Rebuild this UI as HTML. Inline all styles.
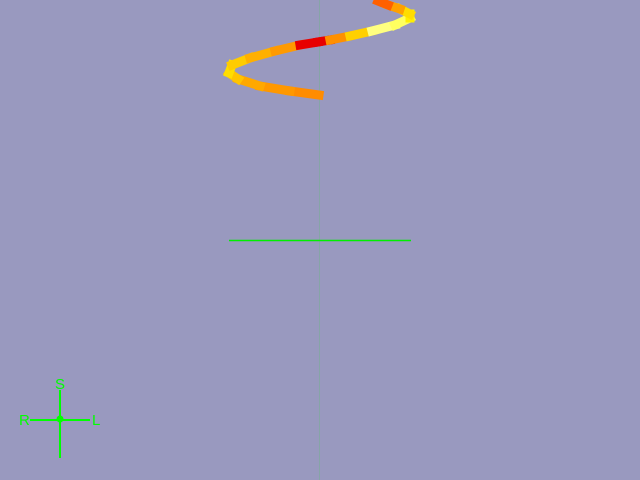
<!DOCTYPE html>
<html><head><meta charset="utf-8"><style>
html,body{margin:0;padding:0;background:#9999bf;}
svg{display:block;}
</style></head><body>
<svg id="scene" width="640" height="480" viewBox="0 0 640 480" xmlns="http://www.w3.org/2000/svg">
<rect width="640" height="480" fill="#9999bf"/>
<line x1="319.5" y1="0" x2="319.5" y2="480" stroke="#00ff00" stroke-opacity="0.12" stroke-width="1"/>
<g id="helix"></g>
<line x1="229" y1="240.5" x2="411" y2="240.5" stroke="#00ee00" stroke-width="1.5"/>
<g font-family="Liberation Sans, sans-serif" font-size="15" fill="#00ff00">
<line x1="30" y1="420" x2="90" y2="420" stroke="#00ff00" stroke-width="2"/>
<line x1="60" y1="390" x2="60" y2="458" stroke="#00ff00" stroke-width="2"/>
<circle cx="60" cy="419" r="3.5" fill="#00ff00"/>
<text x="55" y="389">S</text>
<text x="19" y="425">R</text>
<text x="92" y="425">L</text>
</g>
</svg>
<script>
const helixX=[319,290,260,238,229,232,250,275,300,318,330,350,372,395,410,410,400,388,378];
const helixY=[95,91,86,79,73,65,58,51,45,42,40,36,31,25,18,14,9,5,1];
const helixColor=["#ff8c00","#ff9800","#ffa800","#ffc400","#ffdd00","#ffcc00","#ffb000","#ff9a00","#e80000","#e80000","#ff9000","#ffd000","#ffff80","#ffff60","#ffee00","#ffdd00","#ffa000","#ff6000","#e00000"];
const g=document.getElementById('helix');
for(let i=0;i<helixX.length-1;i++){
  const l=document.createElementNS('http://www.w3.org/2000/svg','line');
  l.setAttribute('x1',helixX[i]);l.setAttribute('y1',helixY[i]);
  l.setAttribute('x2',helixX[i+1]);l.setAttribute('y2',helixY[i+1]);
  l.setAttribute('stroke',helixColor[i]);l.setAttribute('stroke-width','9');
  l.setAttribute('stroke-linecap','square');
  
  
  g.appendChild(l);
}
</script>
</body></html>
